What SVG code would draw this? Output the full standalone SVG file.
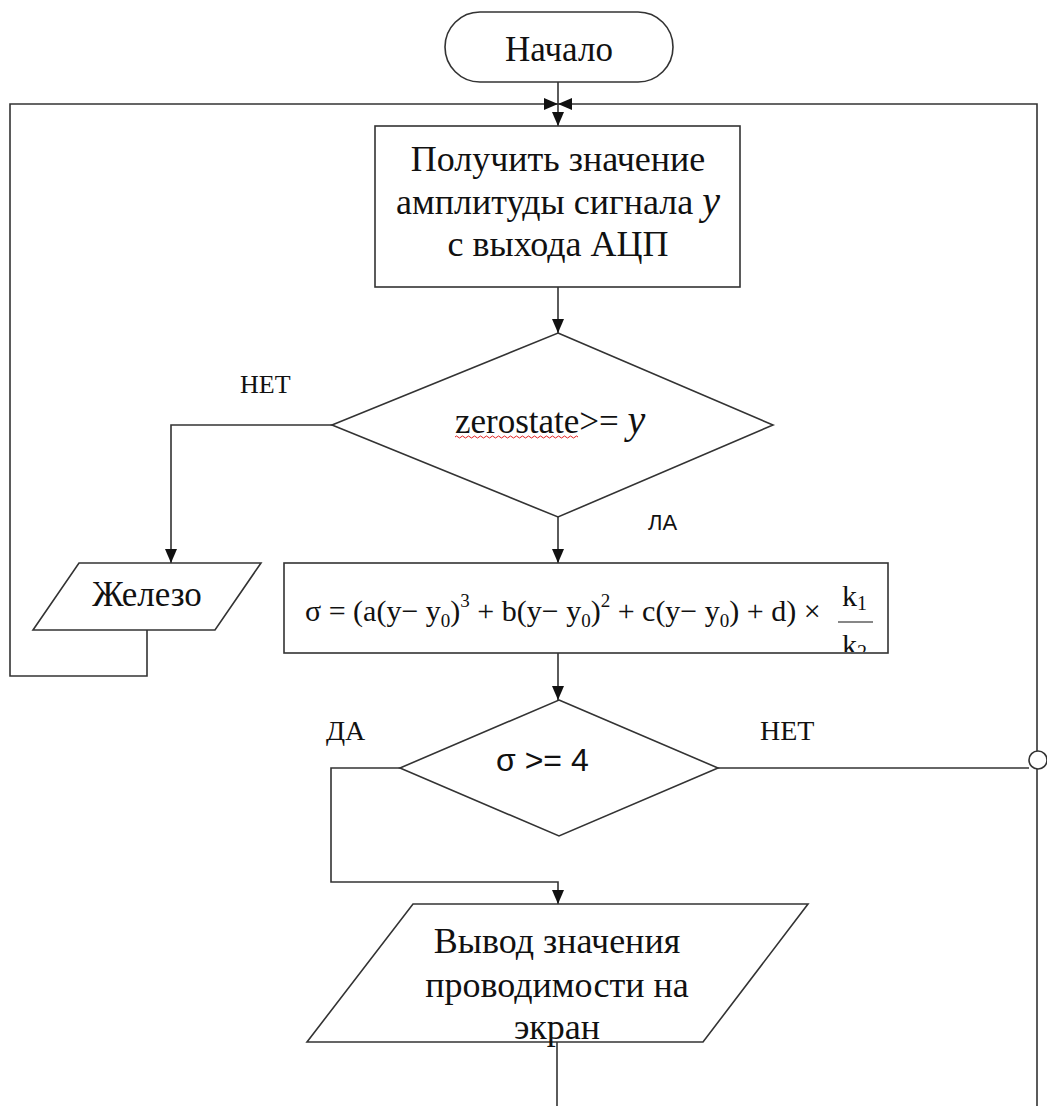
<svg xmlns="http://www.w3.org/2000/svg" width="1047" height="1106" viewBox="0 0 1047 1106">
  <style>
    .shape { fill: #ffffff; stroke: #333333; stroke-width: 1.6; }
    .line { fill: none; stroke: #333333; stroke-width: 1.6; }
    text { fill: #111111; }
    .c { text-anchor: middle; }
  </style>
  <defs>
    <marker id="arrow" viewBox="0 0 14 12" refX="14" refY="6" markerWidth="14" markerHeight="12" markerUnits="userSpaceOnUse" orient="auto">
      <path d="M0,0 L14,6 L0,12 Z" fill="#111111"/>
    </marker>
    <clipPath id="formulaClip">
      <rect x="284" y="563" width="604" height="89"/>
    </clipPath>
  </defs>

  <rect width="1047" height="1106" fill="#ffffff"/>

  <!-- connectors -->
  <g id="connectors">
    <!-- start to first block -->
    <path class="line" d="M558,82 V126" marker-end="url(#arrow)"/>
    <!-- loop back from the left -->
    <path class="line" d="M147,630 V676 H10 V104 H558" marker-end="url(#arrow)"/>
    <!-- loop back from the right -->
    <path class="line" d="M1037,1106 V104 H558" marker-end="url(#arrow)"/>
    <!-- read value to first decision -->
    <path class="line" d="M558,287 V333" marker-end="url(#arrow)"/>
    <!-- first decision: no -->
    <path class="line" d="M332,425 H171 V563" marker-end="url(#arrow)"/>
    <!-- first decision: yes -->
    <path class="line" d="M558,517 V563" marker-end="url(#arrow)"/>
    <!-- formula to second decision -->
    <path class="line" d="M558,653 V700" marker-end="url(#arrow)"/>
    <!-- second decision: yes -->
    <path class="line" d="M400,768 H331 V882 H558 V904" marker-end="url(#arrow)"/>
    <!-- second decision: no -->
    <path class="line" d="M718,768 H1029"/>
    <!-- output continues down -->
    <path class="line" d="M557,1042 V1106"/>
    <!-- junction circle on the right -->
    <circle cx="1038" cy="760" r="9" fill="#ffffff" stroke="#333333" stroke-width="1.6"/>
  </g>

  <!-- start -->
  <g id="start" font-family="Liberation Serif, Times New Roman, serif" font-size="35">
    <rect class="shape" x="445" y="12" width="228" height="70" rx="35" ry="35"/>
    <text class="c" x="559" y="61">Начало</text>
  </g>

  <!-- read ADC value -->
  <g id="read" font-family="Liberation Serif, Times New Roman, serif" font-size="36">
    <rect class="shape" x="375" y="126" width="365" height="161"/>
    <text class="c" x="558" y="171">Получить значение</text>
    <text class="c" x="558" y="214">амплитуды сигнала <tspan font-style="italic" font-size="40">y</tspan></text>
    <text class="c" x="558" y="256">с выхода АЦП</text>
  </g>

  <!-- zero-state check -->
  <g id="check-zero" font-family="Liberation Serif, Times New Roman, serif">
    <polygon class="shape" points="558,333 773,425 558,517 332,425"/>
    <text x="455" y="433" font-size="35">zerostate&gt;= <tspan font-style="italic" font-size="40">y</tspan></text>
    <path d="M455,437 q1.5,-2 3,0 t3,0 t3,0 t3,0 t3,0 t3,0 t3,0 t3,0 t3,0 t3,0 t3,0 t3,0 t3,0 t3,0 t3,0 t3,0 t3,0 t3,0 t3,0 t3,0 t3,0 t3,0 t3,0 t3,0 t3,0 t3,0 t3,0 t3,0 t3,0 t3,0 t3,0 t3,0 t3,0 t3,0 t3,0 t3,0 t3,0 t3,0 t3,0 t3,0 t3,0" fill="none" stroke="#e02020" stroke-width="1"/>
    <text x="240" y="393" font-size="26">НЕТ</text>
    <text x="648" y="530" font-size="22" font-family="Liberation Sans, Arial, sans-serif">ЛА</text>
  </g>

  <!-- iron output -->
  <g id="iron" font-family="Liberation Serif, Times New Roman, serif" font-size="35">
    <polygon class="shape" points="79,563 261,563 215,630 33,630"/>
    <text class="c" x="147" y="606">Железо</text>
  </g>

  <!-- conductivity formula -->
  <g id="formula" font-family="Liberation Serif, Times New Roman, serif" font-size="30">
    <rect class="shape" x="284" y="563" width="604" height="90"/>
    <text x="305" y="621">σ = (a(y− y<tspan dy="6" font-size="19">0</tspan><tspan dy="-6">)</tspan><tspan dy="-14" font-size="19">3</tspan><tspan dy="14"> + b(y− y</tspan><tspan dy="6" font-size="19">0</tspan><tspan dy="-6">)</tspan><tspan dy="-14" font-size="19">2</tspan><tspan dy="14"> + c(y− y</tspan><tspan dy="6" font-size="19">0</tspan><tspan dy="-6">) + d) ×</tspan></text>
    <g clip-path="url(#formulaClip)">
      <text x="842" y="606">k<tspan dy="4" font-size="20">1</tspan></text>
      <line x1="838" y1="622" x2="873" y2="622" stroke="#111111" stroke-width="1.2"/>
      <text x="842" y="655">k<tspan dy="4" font-size="20">2</tspan></text>
    </g>
  </g>

  <!-- threshold check -->
  <g id="check-sigma" font-family="Liberation Serif, Times New Roman, serif" font-size="28">
    <polygon class="shape" points="559,700 718,768 559,836 400,768"/>
    <text x="496" y="771" font-size="32" font-family="Liberation Sans, Arial, sans-serif">σ &gt;= 4</text>
    <text x="326" y="740">ДА</text>
    <text x="760" y="740">НЕТ</text>
  </g>

  <!-- display output -->
  <g id="display" font-family="Liberation Serif, Times New Roman, serif" font-size="36">
    <polygon class="shape" points="413,904 808,904 703,1042 307,1042"/>
    <text class="c" x="557" y="953">Вывод значения</text>
    <text class="c" x="557" y="997">проводимости на</text>
    <text class="c" x="557" y="1039">экран</text>
  </g>
</svg>
